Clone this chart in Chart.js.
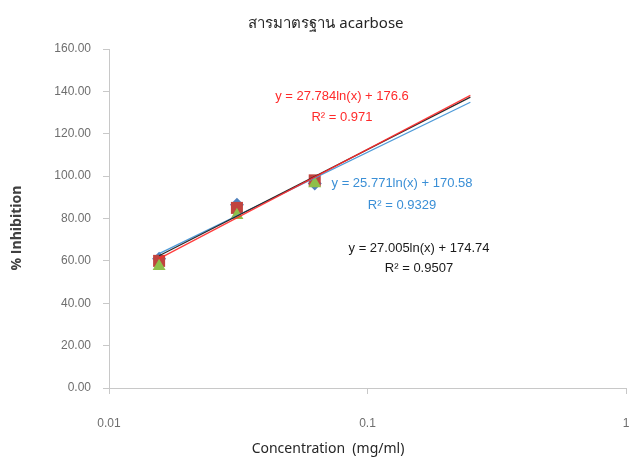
<!DOCTYPE html>
<html>
<head>
<meta charset="utf-8">
<script src="https://cdn.jsdelivr.net/npm/chart.js@4/dist/chart.umd.min.js"></script>
<style>
  html, body { margin: 0; padding: 0; background: #fff; }
  #wrap { width: 630px; height: 461px; position: relative; }
</style>
</head>
<body>
<div id="wrap"><canvas id="graph"></canvas></div>
<script>
// concentrations (mg/ml), three replicate series
const concentrations = [0.015625, 0.03125, 0.0625];
const seriesRed = [60.0, 85.0, 98.0];
const seriesBlue = [61.0, 86.5, 96.5];
const seriesGreen = [57.5, 81.5, 96.5];

// log trendlines, start and end of each line
const trendX = [0.015625, 0.25];
const trendRed = [61.05, 138.08];
const trendBlue = [63.40, 134.85];
const trendBlack = [62.43, 137.30];

const xTicks = [0.01, 0.1, 1];
const xTickLabels = ['0.01', '0.1', '1'];

const titleText = 'สารมาตรฐาน acarbose';
const xTitle = 'Concentration  (mg/ml)';
const yTitle = '% Inhibition';
const labelsRed = ['y = 27.784ln(x) + 176.6', 'R² = 0.971'];
const labelsBlue = ['y = 25.771ln(x) + 170.58', 'R² = 0.9329'];
const labelsBlack = ['y = 27.005ln(x) + 174.74', 'R² = 0.9507'];

function pts(xs, ys) {
	return xs.map(function(x, i) { return {x: x, y: ys[i]}; });
}

// texts that Chart.js can't place where we want them
const textPlugin = {
	id: 'texts',
	afterDraw(chart) {
		const ctx = chart.ctx;
		ctx.save();
		ctx.textAlign = 'center';
		ctx.textBaseline = 'middle';

		ctx.fillStyle = '#262626';
		ctx.font = '15px "Noto Sans", "DejaVu Sans", sans-serif';
		ctx.fillText(titleText, 326, 24);

		ctx.font = '14px "Noto Sans", sans-serif';
		ctx.fillStyle = '#262626';
		ctx.fillText(xTitle, 328, 449);

		ctx.save();
		ctx.translate(17, 228);
		ctx.rotate(-Math.PI / 2);
		ctx.font = 'bold 14px "Open Sans", sans-serif';
		ctx.fillStyle = '#404040';
		ctx.fillText(yTitle, 0, 0);
		ctx.restore();

		ctx.font = '13px "Liberation Sans Narrow", "Arial Narrow", sans-serif';
		ctx.fillStyle = '#ff2a2a';
		ctx.fillText(labelsRed[0], 342, 96);
		ctx.fillText(labelsRed[1], 342, 117);
		ctx.fillStyle = '#3a8fd6';
		ctx.fillText(labelsBlue[0], 402, 183);
		ctx.fillText(labelsBlue[1], 402, 205);
		ctx.fillStyle = '#1a1a1a';
		ctx.fillText(labelsBlack[0], 419, 248);
		ctx.fillText(labelsBlack[1], 419, 268);
		ctx.restore();
	}
};

const ctx = document.getElementById('graph').getContext('2d');
const chart = new Chart(ctx, {
	type: 'scatter',
	data: {
		datasets: [
			{ data: pts(trendX, trendRed), showLine: true, pointRadius: 0, borderColor: 'rgba(255,40,40,0.9)', borderWidth: 1.3 },
			{ data: pts(trendX, trendBlack), showLine: true, pointRadius: 0, borderColor: '#2b2b2b', borderWidth: 1.3 },
			{ data: pts(trendX, trendBlue), showLine: true, pointRadius: 0, borderColor: '#4f9bd9', borderWidth: 1.3 },
			{ data: pts(concentrations, seriesGreen), pointStyle: 'triangle', pointRadius: 7.5, backgroundColor: '#8fbf4a', borderWidth: 0 },
			{ data: pts(concentrations, seriesRed), pointStyle: 'rect', pointRadius: 8.5, backgroundColor: '#c0443f', borderWidth: 0 },
			{ data: pts(concentrations, seriesBlue), pointStyle: 'rectRot', pointRadius: 7, backgroundColor: '#4f81bd', borderWidth: 0 }
		]
	},
	options: {
		responsive: true,
		maintainAspectRatio: false,
		animation: false,
		layout: { autoPadding: false, padding: { top: 49, right: 4, left: 0, bottom: 0 } },
		plugins: {
			legend: { display: false },
			tooltip: { enabled: false },
			title: { display: false }
		},
		scales: {
			x: {
				type: 'logarithmic',
				min: 0.01,
				max: 1,
				afterBuildTicks: function(scale) {
					scale.ticks = xTicks.map(function(v) { return {value: v}; });
				},
				afterFit: function(scale) {
					scale.height = 73;
					scale.paddingLeft = 0;
					scale.paddingRight = 0;
				},
				ticks: {
					autoSkip: false,
					maxRotation: 0,
					padding: 22,
					color: '#6e6e6e',
					font: { family: '"Liberation Sans Narrow", sans-serif', size: 12 },
					callback: function(v) {
						const i = xTicks.indexOf(v);
						return i >= 0 ? xTickLabels[i] : '';
					}
				},
				grid: { drawOnChartArea: false, drawTicks: true, tickLength: 6, color: '#c8c8c8' },
				border: { display: true, color: '#c8c8c8', width: 1 }
			},
			y: {
				min: 0,
				max: 160,
				afterFit: function(scale) {
					scale.width = 109;
					scale.paddingTop = 0;
					scale.paddingBottom = 0;
				},
				ticks: {
					stepSize: 20,
					padding: 12,
					color: '#6e6e6e',
					font: { family: '"Liberation Sans Narrow", sans-serif', size: 12 },
					callback: function(v) { return v.toFixed(2); }
				},
				grid: { drawOnChartArea: false, drawTicks: true, tickLength: 6, color: '#c8c8c8' },
				border: { display: true, color: '#c8c8c8', width: 1 }
			}
		}
	},
	plugins: [textPlugin]
});
</script>
</body>
</html>
